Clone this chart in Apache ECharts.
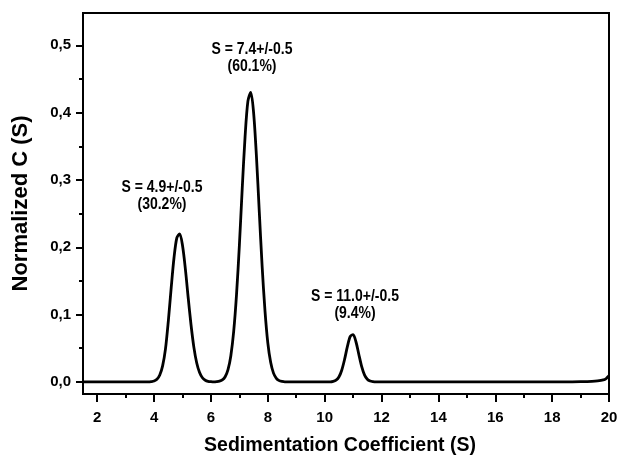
<!DOCTYPE html>
<html>
<head>
<meta charset="utf-8">
<script src="https://cdn.jsdelivr.net/npm/echarts@6/dist/echarts.min.js"></script>
<style>
  html, body { margin: 0; padding: 0; background: #fff; }
  #main { width: 619px; height: 456px; }
</style>
</head>
<body>
<div id="main"></div>
<script>
// sedimentation coefficient distribution
var sValues = [1.5, 2, 3, 3.8, 3.9, 4.0, 4.1, 4.2, 4.3, 4.4, 4.5, 4.6, 4.7, 4.8, 4.9,
  5.0, 5.1, 5.2, 5.3, 5.4, 5.5, 5.6, 5.7, 5.8, 5.9, 6.0, 6.1, 6.2, 6.3,
  6.4, 6.5, 6.6, 6.7, 6.8, 6.9, 7.0, 7.1, 7.2, 7.3, 7.4, 7.5, 7.6, 7.7, 7.8, 7.9,
  8.0, 8.1, 8.2, 8.3, 8.4, 8.5, 8.6, 9.5, 10.2, 10.3, 10.4, 10.5, 10.6, 10.7, 10.8, 10.9,
  11.0, 11.1, 11.2, 11.3, 11.4, 11.5, 11.6, 11.7, 11.8, 13, 15, 17, 18.5,
  19.0, 19.4, 19.6, 19.8, 19.9, 20.0];
var cValues = [0, 0, 0, 0, 0.0004, 0.0012, 0.0038, 0.0102, 0.0238, 0.0486, 0.090, 0.139, 0.184, 0.214, 0.220,
  0.2025, 0.168, 0.125, 0.0845, 0.0513, 0.028, 0.0138, 0.0061, 0.0025, 0.0009, 0.0003, 0, 0.0003, 0.001,
  0.0029, 0.0077, 0.0182, 0.0389, 0.0749, 0.130, 0.203, 0.287, 0.364, 0.417, 0.430, 0.400, 0.335, 0.253, 0.172, 0.106,
  0.058, 0.029, 0.013, 0.0053, 0.0019, 0.0006, 0, 0, 0, 0.0007, 0.0025, 0.0072, 0.0173, 0.0334, 0.0527, 0.0675,
  0.0703, 0.0596, 0.0411, 0.0231, 0.0105, 0.0039, 0.0012, 0.0003, 0, 0, 0, 0, 0,
  0.0003, 0.0008, 0.0015, 0.003, 0.005, 0.009];

var xTicks = [2, 4, 6, 8, 10, 12, 14, 16, 18, 20];
var xMinorTicks = [3, 5, 7, 9, 11, 13, 15, 17, 19];
var yTicks = [0, 0.1, 0.2, 0.3, 0.4, 0.5];
var yMinorTicks = [0.05, 0.15, 0.25, 0.35, 0.45];

var peakLabels = ['S = 4.9+/-0.5\n(30.2%)', 'S = 7.4+/-0.5\n(60.1%)', 'S = 11.0+/-0.5\n(9.4%)'];
var peakLabelPos = [[162, 196], [252, 58], [355, 305]];

var FONT = '"Liberation Sans", Arial, Helvetica, sans-serif';
var X_RANGE = [1.5, 20];
var Y_RANGE = [-0.018, 0.548];

(function(){
  var myChart = echarts.init(document.getElementById('main'));

  var points = sValues.map(function(s, i){ return [s, cValues[i]]; });
  var black = '#000';

  // helper axis that only draws ticks
  function tickAxis(range, pos, values, len){
    return {
      type: 'value',
      min: range[0],
      max: range[1],
      position: pos,
      axisLine: { show: false, onZero: false },
      axisTick: { show: true, customValues: values, length: len, lineStyle: { color: black, width: 2 } },
      axisLabel: { show: false },
      splitLine: { show: false }
    };
  }

  var option = {
    animation: false,
    backgroundColor: '#fff',
    grid: {
      left: 83, right: 10, top: 13, bottom: 62,
      containLabel: false,
      outerBoundsMode: 'none',
      show: true,
      borderColor: black,
      borderWidth: 2
    },
    xAxis: [
      {
        type: 'value',
        min: X_RANGE[0],
        max: X_RANGE[1],
        position: 'bottom',
        name: 'Sedimentation Coefficient (S)',
        nameLocation: 'middle',
        nameGap: 42,
        nameTextStyle: {
          color: black, fontSize: 19.5, fontWeight: 'bold', fontFamily: FONT,
          padding: [0, 12, 0, 0]
        },
        axisLine: { show: true, onZero: false, lineStyle: { color: black, width: 2 } },
        axisTick: { show: false },
        axisLabel: {
          customValues: xTicks, color: black, fontSize: 15, fontWeight: 'bold',
          fontFamily: FONT, margin: 16
        },
        splitLine: { show: false }
      },
      tickAxis(X_RANGE, 'bottom', xTicks, 8),
      tickAxis(X_RANGE, 'bottom', xMinorTicks, 4)
    ],
    yAxis: [
      {
        type: 'value',
        min: Y_RANGE[0],
        max: Y_RANGE[1],
        position: 'left',
        name: 'Normalized C (S)',
        nameLocation: 'middle',
        nameGap: 51,
        nameTextStyle: { color: black, fontSize: 22, fontWeight: 'bold', fontFamily: FONT },
        axisLine: { show: true, onZero: false, lineStyle: { color: black, width: 2 } },
        axisTick: { show: false },
        axisLabel: {
          customValues: yTicks, color: black, fontSize: 15, fontWeight: 'bold',
          fontFamily: FONT, margin: 12,
          formatter: function(v){ return v.toFixed(1).replace('.', ','); }
        },
        splitLine: { show: false }
      },
      tickAxis(Y_RANGE, 'left', yTicks, 7),
      tickAxis(Y_RANGE, 'left', yMinorTicks, 4)
    ],
    series: [
      {
        type: 'line',
        xAxisIndex: 0,
        yAxisIndex: 0,
        data: points,
        smooth: 0.3,
        showSymbol: false,
        lineStyle: { color: black, width: 2.8 },
        clip: true
      }
    ],
    graphic: peakLabels.map(function(t, i){
      return {
        type: 'text',
        x: peakLabelPos[i][0],
        y: peakLabelPos[i][1],
        scaleY: 1.2,
        style: {
          text: t,
          fill: black,
          font: 'bold 14px ' + FONT,
          lineHeight: 14,
          textAlign: 'center',
          textVerticalAlign: 'middle'
        }
      };
    })
  };

  myChart.setOption(option);
})();
</script>
</body>
</html>
